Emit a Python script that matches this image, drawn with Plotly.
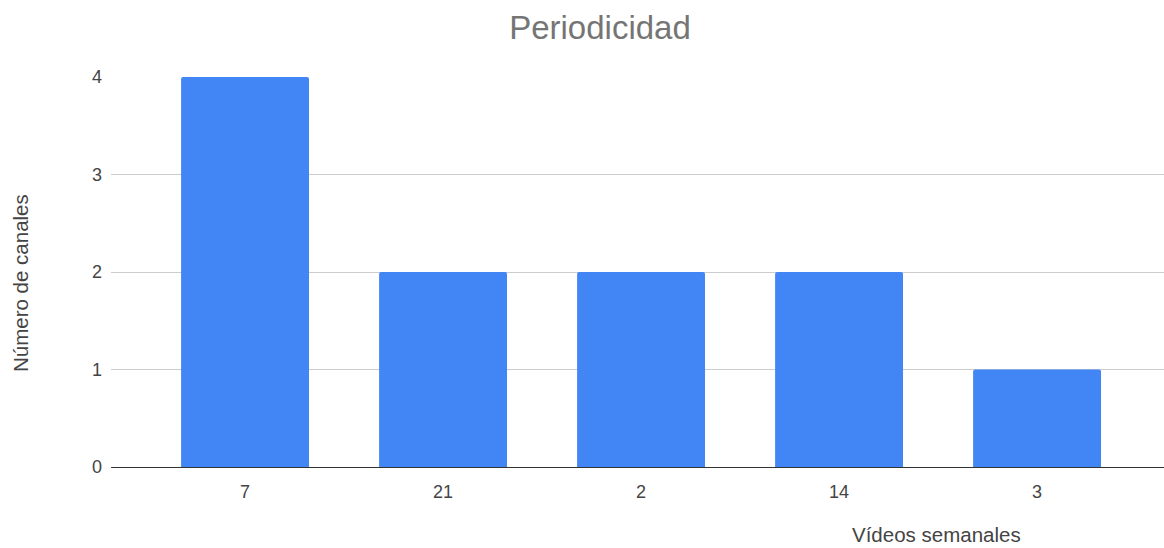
import plotly.graph_objects as go

# Weekly video counts (category labels) and number of channels for each
videos_semanales = ["7", "21", "2", "14", "3"]
num_canales = [4, 2, 2, 2, 1]
y_ticks = [0, 1, 2, 3, 4]

W, H = 1164, 548
L, R, T, B = 111, 0, 77, 81

fig = go.Figure(
    go.Bar(
        x=videos_semanales,
        y=num_canales,
        marker=dict(color="#4285F4", line=dict(width=0), cornerradius=2),
        width=0.646,
    )
)

fig.update_layout(
    width=W,
    height=H,
    margin=dict(l=L, r=R, t=T, b=B),
    paper_bgcolor="white",
    plot_bgcolor="white",
    font=dict(family="Arial, Liberation Sans, sans-serif", color="#444444"),
    showlegend=False,
    bargap=0.354,
    title=dict(
        text="Periodicidad",
        x=600 / W,
        xanchor="center",
        y=1 - 27 / H,
        yanchor="middle",
        font=dict(size=33, color="#757575"),
    ),
    xaxis=dict(
        type="category",
        range=[-0.677, 4.641],
        showgrid=False,
        showline=True,
        linecolor="#333333",
        linewidth=1,
        ticks="",
        tickfont=dict(size=18, color="#444444"),
        ticklabelstandoff=8,
        zeroline=False,
    ),
    yaxis=dict(
        range=[0, 4],
        tickvals=y_ticks,
        showgrid=True,
        gridcolor="#cccccc",
        gridwidth=1,
        zeroline=True,
        zerolinecolor="#333333",
        zerolinewidth=1,
        ticks="",
        tickfont=dict(size=18, color="#444444"),
        ticklabelstandoff=8,
        showline=False,
    ),
    annotations=[
        dict(
            text="Vídeos semanales",
            xref="paper",
            yref="paper",
            x=(936 - L) / (W - L - R),
            y=-(H - (H - B)) / (H - T - B),
            xanchor="center",
            yanchor="bottom",
            showarrow=False,
            font=dict(size=20.5, color="#444444"),
        ),
        dict(
            text="Número de canales",
            xref="paper",
            yref="paper",
            x=-(L - 20) / (W - L - R),
            y=1 - (283 - T) / (H - T - B),
            xanchor="center",
            yanchor="middle",
            textangle=-90,
            showarrow=False,
            font=dict(size=20.5, color="#444444"),
        ),
    ],
)

fig.write_html("out.html")
